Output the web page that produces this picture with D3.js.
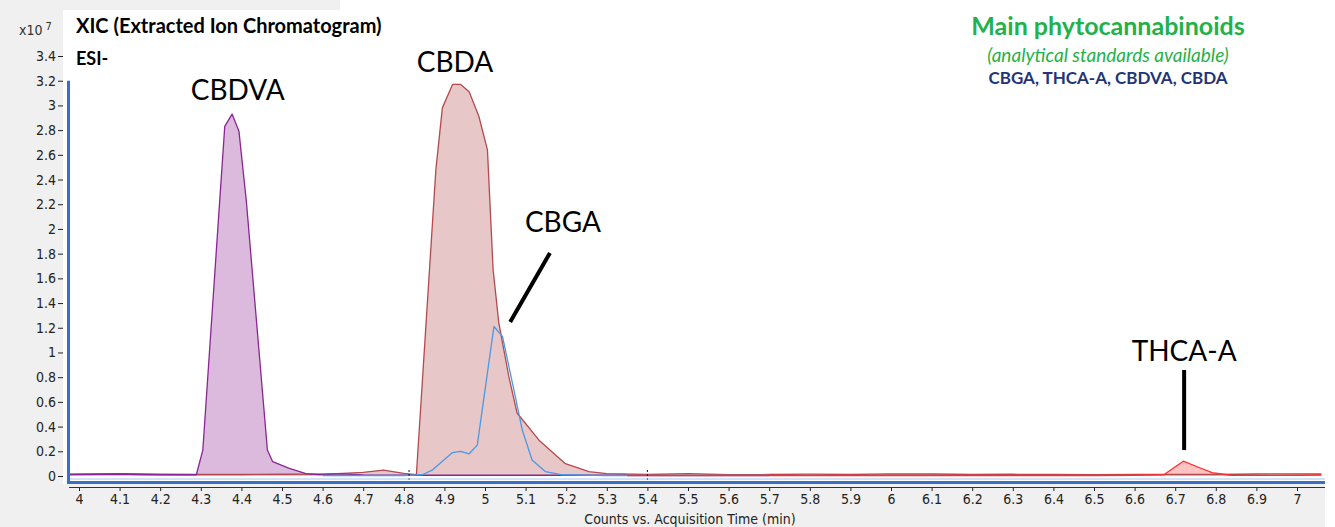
<!DOCTYPE html>
<html>
<head>
<meta charset="utf-8">
<script src="https://cdn.jsdelivr.net/npm/d3@7"></script>
<style>
  body { margin: 0; background: #ffffff; }
  .tick text { font-family: "Liberation Sans Narrow", "DejaVu Sans Condensed", sans-serif; font-size: 14px; fill: #222; }
  .tick line { stroke: #222; }
</style>
</head>
<body>
<div class="xic"></div>
<script>
// retention times (min) and counts (x10^7)
const cbdvaTime   = [3.975, 4.05, 4.10, 4.15, 4.20, 4.25, 4.289, 4.305, 4.359, 4.377, 4.394, 4.412, 4.464, 4.477, 4.518, 4.559, 4.59, 4.65, 4.70, 4.80, 4.90, 5.00, 5.10, 5.20, 5.35];
const cbdvaCounts = [0.012, 0.014, 0.016, 0.012, 0.010, 0.010, 0.010, 0.21, 2.83, 2.93, 2.79, 2.23, 0.21, 0.116, 0.062, 0.02, 0.012, 0.018, 0.008, 0.006, 0.006, 0.006, 0.006, 0.006, 0.006];

const cbdaTime   = [3.975, 4.05, 4.10, 4.20, 4.30, 4.40, 4.50, 4.60, 4.65, 4.70, 4.75, 4.80, 4.831, 4.879, 4.895, 4.92, 4.94, 4.961, 4.985, 5.006, 5.020, 5.034, 5.059, 5.079, 5.133, 5.198, 5.256, 5.30, 5.40, 5.50, 5.60, 5.70, 5.80, 5.90, 6.00, 6.10, 6.20, 6.30, 6.40, 6.50, 6.60, 6.70, 6.80, 6.90, 7.00, 7.06];
const cbdaCounts = [0.015, 0.018, 0.020, 0.014, 0.012, 0.012, 0.014, 0.015, 0.022, 0.030, 0.048, 0.022, 0.010, 2.48, 2.98, 3.17, 3.17, 3.11, 2.91, 2.64, 1.67, 1.24, 0.80, 0.51, 0.29, 0.10, 0.035, 0.02, 0.012, 0.02, 0.01, 0.012, 0.015, 0.012, 0.018, 0.016, 0.012, 0.014, 0.012, 0.010, 0.012, 0.012, 0.012, 0.016, 0.018, 0.016];

const cbgaTime   = [4.60, 4.70, 4.80, 4.846, 4.871, 4.920, 4.940, 4.961, 4.981, 5.022, 5.043, 5.071, 5.092, 5.116, 5.149, 5.19, 5.30, 5.40, 5.50, 5.60, 5.70];
const cbgaCounts = [0.004, 0.004, 0.004, 0.010, 0.05, 0.19, 0.20, 0.18, 0.25, 1.21, 1.13, 0.70, 0.37, 0.13, 0.035, 0.010, 0.004, 0.004, 0.004, 0.004, 0.004];

const thcaTime   = [5.35, 5.50, 5.70, 5.90, 6.10, 6.30, 6.50, 6.60, 6.672, 6.720, 6.754, 6.791, 6.836, 6.90, 7.00, 7.06];
const thcaCounts = [0.004, 0.004, 0.004, 0.004, 0.004, 0.004, 0.004, 0.006, 0.010, 0.12, 0.075, 0.027, 0.006, 0.005, 0.006, 0.008];

const xTicks = [4, 4.1, 4.2, 4.3, 4.4, 4.5, 4.6, 4.7, 4.8, 4.9, 5, 5.1, 5.2, 5.3, 5.4, 5.5, 5.6, 5.7, 5.8, 5.9, 6, 6.1, 6.2, 6.3, 6.4, 6.5, 6.6, 6.7, 6.8, 6.9, 7];
const yTicks = [0, 0.2, 0.4, 0.6, 0.8, 1, 1.2, 1.4, 1.6, 1.8, 2, 2.2, 2.4, 2.6, 2.8, 3, 3.2, 3.4];

const segmentMarks = [4.813, 5.40];

function toPoints(times, counts) {
    return times.map((t, i) => ({ time: t, count: counts[i] }));
}

const traces = [
    { name: "CBDA",   data: toPoints(cbdaTime, cbdaCounts),   fill: "#e7c7c7", stroke: "#b44a4e" },
    { name: "CBDVA",  data: toPoints(cbdvaTime, cbdvaCounts), fill: "#dcbadd", stroke: "#8a2592" },
    { name: "CBGA",   data: toPoints(cbgaTime, cbgaCounts),   fill: "none",    stroke: "#4b98e6" },
    { name: "THCA-A", data: toPoints(thcaTime, thcaCounts),   fill: "#ffc3c3", stroke: "#ff2f2f" }
];

const W = 1335, H = 527;

var svg = d3.select(".xic")
    .append("svg")
    .attr("width", W)
    .attr("height", H);

// grey frame of the instrument window
svg.append("rect").attr("x", 0).attr("y", 0).attr("width", 63).attr("height", H).attr("fill", "#f0f0f0");
svg.append("rect").attr("x", 0).attr("y", 0).attr("width", 340).attr("height", 10).attr("fill", "#f0f0f0");
svg.append("rect").attr("x", 0).attr("y", 484).attr("width", 1325).attr("height", H - 484).attr("fill", "#f0f0f0");

var x = d3.scaleLinear()
    .domain([4, 7])
    .range([79, 1297]);

var y = d3.scaleLinear()
    .domain([0, 3.4])
    .range([476, 56]);

svg.append("clipPath").attr("id", "plotclip")
    .append("rect").attr("x", 69).attr("y", 10).attr("width", 1256).attr("height", 468);

var plot = svg.append("g").attr("clip-path", "url(#plotclip)");

traces.forEach(tr => {
    if (tr.fill !== "none") {
        plot.append("path")
            .datum(tr.data)
            .attr("fill", tr.fill)
            .attr("d", d3.area()
                .x(d => x(d.time))
                .y0(y(0))
                .y1(d => y(d.count)));
    }
});
traces.forEach(tr => {
    plot.append("path")
        .datum(tr.data)
        .attr("fill", "none")
        .attr("stroke", tr.stroke)
        .attr("stroke-width", 1.3)
        .attr("stroke-linejoin", "round")
        .attr("d", d3.line()
            .x(d => x(d.time))
            .y(d => y(d.count)));
});

// segment markers
svg.selectAll(".seg")
    .data(segmentMarks)
    .enter()
    .append("line")
    .attr("x1", d => x(d)).attr("x2", d => x(d))
    .attr("y1", y(0) - 6).attr("y2", 485)
    .attr("stroke", "#111")
    .attr("stroke-width", 1)
    .attr("stroke-dasharray", "2,2");

// blue plot frame
svg.append("line")
    .attr("x1", 69).attr("x2", 1325)
    .attr("y1", 479).attr("y2", 479)
    .attr("stroke", "#a8c8f0").attr("stroke-width", 1);
svg.append("path")
    .attr("d", "M68.5," + y(3.2) + "V482.5H1325")
    .attr("fill", "none")
    .attr("stroke", "#3a6fc8")
    .attr("stroke-width", 3);

// axes
var yAxis = svg.append("g")
    .attr("transform", "translate(63,0)")
    .call(d3.axisLeft(y).tickValues(yTicks).tickSize(5).tickPadding(2).tickFormat(d => String(d)));
yAxis.select(".domain").remove();

var xAxis = svg.append("g")
    .attr("transform", "translate(0,487)")
    .call(d3.axisBottom(x).tickValues(xTicks).tickSize(4).tickPadding(3).tickFormat(d => String(d)));
xAxis.select(".domain").remove();
svg.append("line")
    .attr("x1", 69).attr("x2", 1325)
    .attr("y1", 487.5).attr("y2", 487.5)
    .attr("stroke", "#333").attr("stroke-width", 1);

svg.append("text")
    .attr("x", 690).attr("y", 524)
    .attr("text-anchor", "middle")
    .style("font-family", "'Liberation Sans Narrow', 'DejaVu Sans Condensed', sans-serif")
    .style("font-size", "14px")
    .attr("fill", "#222")
    .text("Counts vs. Acquisition Time (min)");

var ymul = svg.append("text")
    .attr("x", 19).attr("y", 35)
    .style("font-family", "'Liberation Sans Narrow', 'DejaVu Sans Condensed', sans-serif")
    .style("font-size", "14px")
    .attr("fill", "#333");
ymul.append("tspan").text("x10");
ymul.append("tspan").attr("dx", 3).attr("dy", -5).style("font-size", "11px").text("7");

// headings
svg.append("text")
    .attr("x", 76).attr("y", 33)
    .style("font-family", "Lato, sans-serif")
    .style("font-weight", "bold")
    .style("font-size", "20px")
    .attr("fill", "#000")
    .text("XIC (Extracted Ion Chromatogram)");
svg.append("text")
    .attr("x", 76).attr("y", 65)
    .style("font-family", "Lato, sans-serif")
    .style("font-weight", "bold")
    .style("font-size", "18px")
    .attr("fill", "#000")
    .text("ESI-");

var legend = svg.append("g").attr("transform", "translate(1108,0)")
    .style("font-family", "Lato, sans-serif")
    .attr("text-anchor", "middle");
legend.append("text").attr("y", 35)
    .style("font-weight", "bold").style("font-size", "25px")
    .attr("fill", "#1fb24a")
    .text("Main phytocannabinoids");
legend.append("text").attr("y", 62)
    .style("font-style", "italic").style("font-size", "19px")
    .attr("fill", "#1fb24a")
    .text("(analytical standards available)");
legend.append("text").attr("y", 84)
    .style("font-weight", "bold").style("font-size", "17px")
    .attr("fill", "#1f3577")
    .text("CBGA, THCA-A,  CBDVA, CBDA");

// peak annotations (positions in data units)
const peakLabels = [
    { text: "CBDVA",  time: 4.391, count: 3.04 },
    { text: "CBDA",   time: 4.926, count: 3.27 },
    { text: "CBGA",   time: 5.192, count: 1.976 },
    { text: "THCA-A", time: 6.722, count: 0.93 }
];
const pointers = [
    { t1: 5.160, c1: 1.806, t2: 5.062, c2: 1.247 },
    { t1: 6.722, c1: 0.858, t2: 6.722, c2: 0.21 }
];

svg.selectAll(".peaklabel")
    .data(peakLabels)
    .enter()
    .append("text")
    .attr("x", d => x(d.time))
    .attr("y", d => y(d.count))
    .attr("text-anchor", "middle")
    .style("font-family", "Lato, sans-serif")
    .style("font-size", "28px")
    .attr("fill", "#000")
    .text(d => d.text);

svg.selectAll(".pointer")
    .data(pointers)
    .enter()
    .append("line")
    .attr("x1", d => x(d.t1)).attr("y1", d => y(d.c1))
    .attr("x2", d => x(d.t2)).attr("y2", d => y(d.c2))
    .attr("stroke", "#000")
    .attr("stroke-width", 4);
</script>
</body>
</html>
